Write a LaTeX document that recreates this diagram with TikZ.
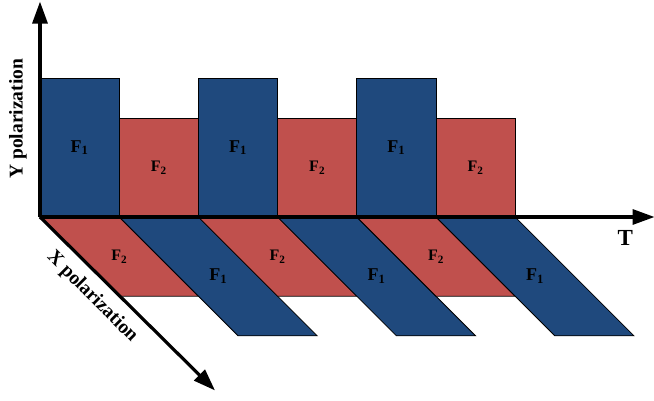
\documentclass[tikz,border=0pt]{standalone}
\usepackage{fontspec}
\setmainfont{Liberation Serif}
\usepackage{xcolor}
\usetikzlibrary{arrows.meta}

\definecolor{fone}{RGB}{31,73,125}
\definecolor{ftwo}{RGB}{192,80,77}

\tikzset{
  fonebox/.style = {fill = fone, draw = black, line width = 0.8pt},
  ftwobox/.style = {fill = ftwo, draw = black, line width = 0.8pt},
  polaxis/.style = {line width = 3.2pt, -{Triangle[length = 22pt, width = 15pt]}},
  fonelab/.style = {font = \fontsize{18}{18}\selectfont\bfseries},
  ftwolab/.style = {font = \fontsize{16}{16}\selectfont\bfseries},
  axislab/.style = {font = \fontsize{19.5}{19.5}\selectfont\bfseries}
}

\begin{document}
\begin{tikzpicture}[x = 79.2pt, y = 79.2pt]
\useasboundingbox (-0.505,-2.323) rectangle (7.753,2.74);
% pulses in Y polarization
\foreach \i in {0,2,4} {
  \draw [fonebox] (\i,0) rectangle (\i+1,1.75);
  \node [fonelab] (yone\i) at (\i+0.5,0.875) {F\textsubscript{1}};
  \draw [ftwobox] (\i+1,0) rectangle (\i+2,1.25);
  \node [ftwolab] (ytwo\i) at (\i+1.5,0.625) {F\textsubscript{2}};
}
% pulses in X polarization
\foreach \i in {0,2,4} {
  \draw [ftwobox] (\i,0) -- (\i+1,0) -- (\i+2,-1) -- (\i+1,-1) -- cycle;
  \node [ftwolab] (xtwo\i) at (\i+1,-0.5) {F\textsubscript{2}};
  \draw [fonebox] (\i+1,0) -- (\i+2,0) -- (\i+3.5,-1.5) -- (\i+2.5,-1.5) -- cycle;
  \node [fonelab] (xone\i) at (\i+2.25,-0.75) {F\textsubscript{1}};
}
% axes
\coordinate (o) at (0,0);
\coordinate (ytip) at (0,2.72);
\coordinate (ttip) at (7.76,0);
\coordinate (xtip) at (2.21,-2.19);
\draw [polaxis] (o) -- (ytip);
\draw [polaxis] (o) -- (ttip);
\draw [polaxis] (o) -- (xtip);
\node [axislab, rotate = 90] (ylab) at (-0.28,1.24) {Y polarization};
\node [axislab, rotate = -45] (xlab) at (0.66,-1.01) {X polarization};
\node [axislab, font = \fontsize{23}{23}\selectfont\bfseries] (tlab) at (7.39,-0.26) {T};
\end{tikzpicture}
\end{document}
